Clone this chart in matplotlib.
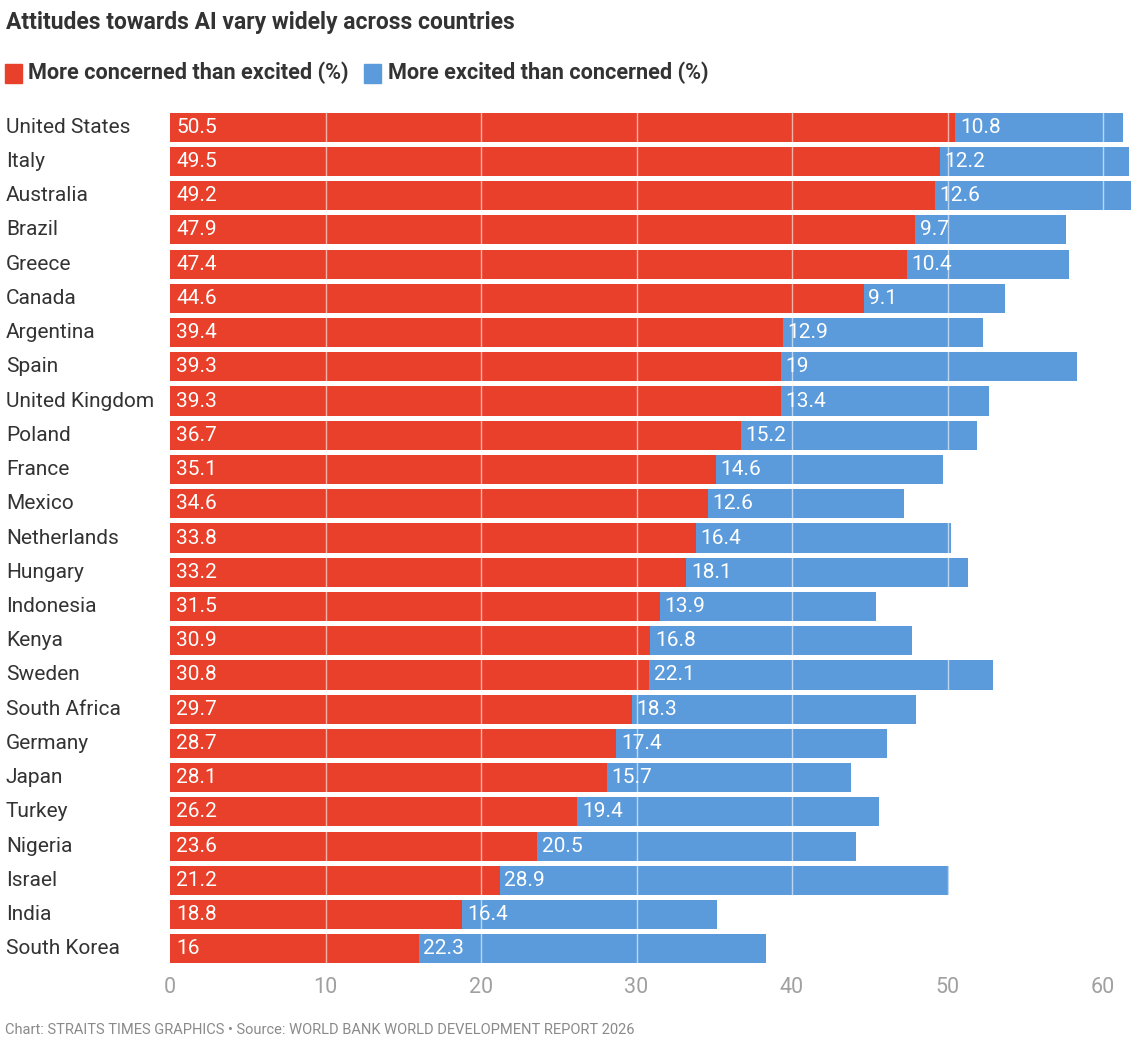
import numpy as np
import matplotlib.pyplot as plt
from matplotlib.patches import Rectangle
from matplotlib.transforms import blended_transform_factory

# Chart data
countries = ["United States", "Italy", "Australia", "Brazil", "Greece", "Canada",
             "Argentina", "Spain", "United Kingdom", "Poland", "France", "Mexico",
             "Netherlands", "Hungary", "Indonesia", "Kenya", "Sweden", "South Africa",
             "Germany", "Japan", "Turkey", "Nigeria", "Israel", "India", "South Korea"]
concerned = [50.5, 49.5, 49.2, 47.9, 47.4, 44.6, 39.4, 39.3, 39.3, 36.7, 35.1, 34.6,
             33.8, 33.2, 31.5, 30.9, 30.8, 29.7, 28.7, 28.1, 26.2, 23.6, 21.2, 18.8, 16]
excited = [10.8, 12.2, 12.6, 9.7, 10.4, 9.1, 12.9, 19, 13.4, 15.2, 14.6, 12.6,
           16.4, 18.1, 13.9, 16.8, 22.1, 18.3, 17.4, 15.7, 19.4, 20.5, 28.9, 16.4, 22.3]
x_ticks = [0, 10, 20, 30, 40, 50, 60]

series_names = ["More concerned than excited (%)", "More excited than concerned (%)"]

RED = "#e8402a"
BLUE = "#5b9bdb"
DARK = "#333333"

plt.rcParams['font.family'] = ['Liberation Sans Narrow', 'Roboto', 'DejaVu Sans']

W, H = 1140, 1045
fig = plt.figure(figsize=(W / 100, H / 100), dpi=100)

# axes placement in pixels
left_px, right_px = 170, 1136
top_px, bot_px = 110, 966
ax = fig.add_axes([left_px / W, 1 - bot_px / H, (right_px - left_px) / W, (bot_px - top_px) / H])

y = np.arange(len(countries))
ax.barh(y, concerned, height=0.85, color=RED, zorder=1)
ax.barh(y, excited, left=concerned, height=0.85, color=BLUE, zorder=1)

# value labels
for i in range(len(countries)):
    ax.text(0.4, i, f"{concerned[i]:g}", color="white", fontsize=15,
            va="center", ha="left", zorder=3)
    ax.text(concerned[i] + 0.3, i, f"{excited[i]:g}", color="white", fontsize=15,
            va="center", ha="left", zorder=3)

# country labels on the left edge of the figure
trans = blended_transform_factory(fig.transFigure, ax.transData)
for i, c in enumerate(countries):
    ax.text(6 / W, i, c, transform=trans, color=DARK, fontsize=15,
            va="center", ha="left")

# white grid lines over the bars
for xv in x_ticks[1:]:
    ax.axvline(xv, color="white", lw=1, alpha=0.6, zorder=2)

ax.set_xlim(0, (right_px - left_px) / 15.55)
ax.set_ylim(len(countries) - 0.5, -0.5)
ax.set_xticks(x_ticks)
ax.set_xticklabels([str(v) for v in x_ticks], color="#a0a0a0", fontsize=15.5)
ax.tick_params(axis="x", length=0, pad=8)
ax.set_yticks([])
for s in ax.spines.values():
    s.set_visible(False)

# title
fig.text(6 / W, 1 - 22 / H, "Attitudes towards AI vary widely across countries",
         fontsize=16.5, fontweight="bold", color=DARK, va="center", ha="left")

# legend
fig.patches.append(Rectangle((5 / W, 1 - 83 / H), 17 / W, 19 / H, color=RED,
                             transform=fig.transFigure, figure=fig))
fig.text(28 / W, 1 - 73 / H, series_names[0], fontsize=15.6, fontweight="bold",
         color=DARK, va="center", ha="left")
fig.patches.append(Rectangle((364 / W, 1 - 83 / H), 17 / W, 19 / H, color=BLUE,
                             transform=fig.transFigure, figure=fig))
fig.text(388 / W, 1 - 73 / H, series_names[1], fontsize=15.6, fontweight="bold",
         color=DARK, va="center", ha="left")

# footer
fig.text(5 / W, 1 - 1030 / H,
         "Chart: STRAITS TIMES GRAPHICS \u2022 Source: WORLD BANK WORLD DEVELOPMENT REPORT 2026",
         fontsize=10.5, color="#8a8a8a", va="center", ha="left")

fig.savefig("out.png", dpi=100)
